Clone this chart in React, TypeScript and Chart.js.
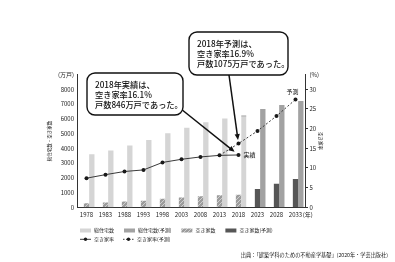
import React, { useEffect, useRef } from 'react';
import { Chart, registerables } from 'chart.js';

Chart.register(...registerables);

const FONT = '"Noto Sans CJK JP", "Noto Sans", sans-serif';

const years = ['1978', '1983', '1988', '1993', '1998', '2003', '2008', '2013', '2018', '2023', '2028', '2033'];
const totalHousing = [3600, 3850, 4190, 4560, 5020, 5390, 5770, 6020, 6240, null, null, null];
const totalHousingForecast = [null, null, null, null, null, null, null, null, null, 6670, 6940, 7210];
const vacantHouses = [268, 330, 394, 448, 576, 659, 757, 820, 846, null, null, null];
const vacantHousesForecast = [null, null, null, null, null, null, null, null, null, 1240, 1600, 1920];
const vacancyRate = [7.4, 8.3, 9.1, 9.5, 11.4, 12.2, 12.8, 13.2, 13.3, null, null, null];
const vacancyRateForecast = [null, null, null, null, null, null, null, 13.2, 16.2, 19.4, 23.2, 27.4];
const spacer = years.map(() => null);

const leftTickValues = [0, 1000, 2000, 3000, 4000, 5000, 6000, 7000, 8000];
const rightTickValues = [0, 5, 10, 15, 20, 25, 30];
const LEFT_MAX = 9000;
const RIGHT_MAX = 33.75;

const leftUnit = '(万戸)';
const rightUnit = '(%)';
const yearUnit = '(年)';
const leftTitle = '総住宅数・空き家数';
const rightTitle = '空き家率';
const actualCallout = ['2018年実績は、', '空き家率16.1%', '戸数846万戸であった。'];
const forecastCallout = ['2018年予測は、', '空き家率16.9%', '戸数1075万戸であった。'];
const actualTag = '実績';
const forecastTag = '予測';
const legendBars = ['総住宅数', '総住宅数(予測)', '空き家数', '空き家数(予測)'];
const legendLines = ['空き家率', '空き家率(予測)'];
const sourceNote = '出典：「建築学科のための不動産学基礎」(2020年・学芸出版社)';

const C_TOTAL = '#d5d5d5';
const C_TOTAL_F = '#a2a2a2';
const C_VACANT_F = '#565656';
const C_LINE = '#3a3a3a';
const C_DOT = '#1a1a1a';
const C_TEXT = '#222';

function makeHatch(): CanvasPattern | string {
  const c = document.createElement('canvas');
  c.width = 4;
  c.height = 4;
  const g = c.getContext('2d');
  if (!g) return '#a0a0a0';
  g.fillStyle = '#9c9c9c';
  g.fillRect(0, 0, 4, 4);
  g.strokeStyle = '#cfcfcf';
  g.lineWidth = 1;
  g.beginPath();
  g.moveTo(0, 4);
  g.lineTo(4, 0);
  g.stroke();
  const p = g.createPattern(c, 'repeat');
  return p || '#a0a0a0';
}

function roundRect(ctx: CanvasRenderingContext2D, x: number, y: number, w: number, h: number, r: number) {
  ctx.beginPath();
  ctx.moveTo(x + r, y);
  ctx.lineTo(x + w - r, y);
  ctx.arcTo(x + w, y, x + w, y + r, r);
  ctx.lineTo(x + w, y + h - r);
  ctx.arcTo(x + w, y + h, x + w - r, y + h, r);
  ctx.lineTo(x + r, y + h);
  ctx.arcTo(x, y + h, x, y + h - r, r);
  ctx.lineTo(x, y + r);
  ctx.arcTo(x, y, x + r, y, r);
  ctx.closePath();
}

function arrow(ctx: CanvasRenderingContext2D, x0: number, y0: number, tx: number, ty: number, back: number) {
  const dx = tx - x0;
  const dy = ty - y0;
  const len = Math.sqrt(dx * dx + dy * dy);
  const ux = dx / len;
  const uy = dy / len;
  const ex = tx - ux * back;
  const ey = ty - uy * back;
  const hl = 6;
  const hw = 2.6;
  ctx.strokeStyle = '#111';
  ctx.lineWidth = 1.5;
  ctx.beginPath();
  ctx.moveTo(x0, y0);
  ctx.lineTo(ex - ux * hl * 0.8, ey - uy * hl * 0.8);
  ctx.stroke();
  ctx.fillStyle = '#111';
  ctx.beginPath();
  ctx.moveTo(ex, ey);
  ctx.lineTo(ex - ux * hl - uy * hw, ey - uy * hl + ux * hw);
  ctx.lineTo(ex - ux * hl + uy * hw, ey - uy * hl - ux * hw);
  ctx.closePath();
  ctx.fill();
}

export default function App() {
  const ref = useRef<HTMLCanvasElement>(null);

  useEffect(() => {
    const canvas = ref.current;
    if (!canvas) return;
    const hatch = makeHatch();

    const overlay = {
      id: 'overlay',
      afterDraw(chart: any) {
        const ctx: CanvasRenderingContext2D = chart.ctx;
        const xs = chart.scales.x;
        ctx.save();

        // year unit after last x label
        ctx.font = `6px ${FONT}`;
        ctx.fillStyle = C_TEXT;
        ctx.textBaseline = 'middle';
        ctx.textAlign = 'left';
        const lastX = xs.getPixelForValue(years.length - 1);
        const lw = ctx.measureText(years[years.length - 1]).width;
        const labelY = xs.top + 4 + 3.6;
        ctx.fillText(yearUnit, lastX + lw / 2 + 0.5, labelY);

        // data points for 2018
        const actMeta = chart.getDatasetMeta(5);
        const fcMeta = chart.getDatasetMeta(6);
        const pA = actMeta.data[8];
        const pF = fcMeta.data[8];
        const pEnd = fcMeta.data[years.length - 1];

        // tags
        ctx.font = `6px ${FONT}`;
        ctx.fillStyle = '#111';
        ctx.textAlign = 'left';
        ctx.fillText(actualTag, pA.x + 5, pA.y);
        ctx.textAlign = 'center';
        ctx.fillText(forecastTag, pEnd.x - 3, pEnd.y - 8);

        // arrows
        arrow(ctx, 181, 109, pA.x, pA.y, 5);
        arrow(ctx, 229, 75, pF.x, pF.y, 3.5);

        // callout boxes
        const boxes = [
          { x: 87, y: 73, w: 96, h: 42, lines: actualCallout },
          { x: 189, y: 32, w: 99, h: 43, lines: forecastCallout },
        ];
        for (const b of boxes) {
          roundRect(ctx, b.x, b.y, b.w, b.h, 8);
          ctx.fillStyle = '#fff';
          ctx.fill();
          ctx.strokeStyle = '#111';
          ctx.lineWidth = 1.4;
          ctx.stroke();
          ctx.fillStyle = '#111';
          ctx.font = `500 8.2px ${FONT}`;
          ctx.textAlign = 'left';
          ctx.textBaseline = 'middle';
          b.lines.forEach((t, i) => ctx.fillText(t, b.x + 8, b.y + 11.5 + i * 10.3));
        }

        // legend
        const lx0 = 80;
        ctx.font = `5px ${FONT}`;
        ctx.textBaseline = 'middle';
        ctx.textAlign = 'left';
        const fills: any[] = [C_TOTAL, C_TOTAL_F, hatch, C_VACANT_F];
        let x = lx0;
        const r1 = 230.5;
        legendBars.forEach((t, i) => {
          ctx.fillStyle = fills[i];
          ctx.fillRect(x, r1 - 2, 11, 4);
          ctx.fillStyle = C_TEXT;
          ctx.fillText(t, x + 14, r1);
          x += 14 + ctx.measureText(t).width + 10;
        });
        x = lx0;
        const r2 = 239.3;
        legendLines.forEach((t, i) => {
          ctx.strokeStyle = C_LINE;
          ctx.lineWidth = 1;
          ctx.setLineDash(i === 1 ? [1.5, 1.5] : []);
          ctx.beginPath();
          ctx.moveTo(x, r2);
          ctx.lineTo(x + 11, r2);
          ctx.stroke();
          ctx.setLineDash([]);
          ctx.fillStyle = C_DOT;
          ctx.beginPath();
          ctx.arc(x + 5.5, r2, 1.7, 0, Math.PI * 2);
          ctx.fill();
          ctx.fillStyle = C_TEXT;
          ctx.fillText(t, x + 14, r2);
          x += 14 + ctx.measureText(t).width + 9;
        });

        // source
        ctx.font = `5.2px ${FONT}`;
        ctx.textAlign = 'right';
        ctx.fillStyle = C_TEXT;
        ctx.fillText(sourceNote, 388, 255.5);

        ctx.restore();
      },
    };

    const tickFont = { family: FONT, size: 6 };

    const chart = new Chart(canvas, {
      type: 'bar',
      data: {
        labels: years,
        datasets: [
          { label: 'spacer', data: spacer, stack: 's', backgroundColor: 'transparent' },
          { label: legendBars[2], data: vacantHouses, stack: 'v', backgroundColor: hatch as any, borderWidth: 0 },
          { label: legendBars[3], data: vacantHousesForecast, stack: 'v', backgroundColor: C_VACANT_F, borderWidth: 0 },
          {
            label: legendBars[0],
            data: totalHousing,
            stack: 't',
            backgroundColor: C_TOTAL,
            borderColor: '#a6a6a6',
            borderSkipped: false,
            borderWidth: (c: any) => (c.dataIndex === 8 ? { top: 1.5, left: 0, right: 0, bottom: 0 } : 0),
          },
          { label: legendBars[1], data: totalHousingForecast, stack: 't', backgroundColor: C_TOTAL_F, borderWidth: 0 },
          {
            type: 'line',
            label: legendLines[0],
            data: vacancyRate,
            yAxisID: 'y1',
            order: -1,
            borderColor: C_LINE,
            borderWidth: 1,
            pointRadius: 2,
            pointBackgroundColor: C_DOT,
            pointBorderWidth: 0,
            tension: 0,
          },
          {
            type: 'line',
            label: legendLines[1],
            data: vacancyRateForecast,
            yAxisID: 'y1',
            order: -1,
            borderColor: C_LINE,
            borderWidth: 1,
            borderDash: [2, 2],
            pointRadius: (c: any) => (c.dataIndex === 7 ? 0 : 2),
            pointBackgroundColor: C_DOT,
            pointBorderWidth: 0,
            tension: 0,
          },
        ] as any,
      },
      options: {
        responsive: false,
        maintainAspectRatio: false,
        animation: false,
        devicePixelRatio: 1,
        events: [],
        layout: { padding: { top: 74.5, left: 0, right: 0, bottom: 0 } },
        datasets: { bar: { categoryPercentage: 0.84, barPercentage: 1 } } as any,
        plugins: {
          legend: { display: false },
          tooltip: { enabled: false },
          title: { display: false },
        },
        scales: {
          x: {
            offset: true,
            grid: { display: false, drawTicks: false },
            border: { display: true, color: '#333', width: 1 },
            ticks: { font: tickFont, color: C_TEXT, padding: 4, maxRotation: 0, autoSkip: false },
            afterFit: (s: any) => {
              s.height = 54.7;
            },
          },
          y: {
            position: 'left',
            min: 0,
            max: LEFT_MAX,
            grid: { display: false, drawTicks: false },
            border: { display: true, color: '#333', width: 1 },
            afterBuildTicks: (s: any) => {
              s.ticks = [...leftTickValues, LEFT_MAX].map((v) => ({ value: v }));
            },
            ticks: {
              font: tickFont,
              color: C_TEXT,
              padding: 3,
              callback: (v: any) => (v === LEFT_MAX ? leftUnit : String(v)),
            },
            title: {
              display: true,
              text: leftTitle,
              font: { family: FONT, size: 4.5 },
              color: C_TEXT,
              padding: { top: 47, bottom: 0 },
            },
            afterFit: (s: any) => {
              s.width = 77;
            },
          },
          y1: {
            position: 'right',
            min: 0,
            max: RIGHT_MAX,
            grid: {
              display: true,
              drawOnChartArea: false,
              drawTicks: true,
              tickLength: 3,
              color: (c: any) => (c.tick && c.tick.value === RIGHT_MAX ? 'rgba(0,0,0,0)' : '#333'),
            },
            border: { display: true, color: '#333', width: 1 },
            afterBuildTicks: (s: any) => {
              s.ticks = [...rightTickValues, RIGHT_MAX].map((v) => ({ value: v }));
            },
            ticks: {
              font: tickFont,
              color: C_TEXT,
              padding: 1.5,
              callback: (v: any) => (v === RIGHT_MAX ? rightUnit : String(v)),
            },
            title: {
              display: true,
              text: rightTitle,
              font: { family: FONT, size: 4.5 },
              color: C_TEXT,
              padding: { top: 72, bottom: 0 },
            },
            afterFit: (s: any) => {
              s.width = 90;
            },
          },
        } as any,
      },
      plugins: [overlay],
    });

    return () => chart.destroy();
  }, []);

  return (
    <div style={{ position: 'fixed', left: 0, top: 0, width: 395, height: 262, background: '#fff' }}>
      <canvas ref={ref} width={395} height={262} style={{ display: 'block', width: 395, height: 262 }} />
    </div>
  );
}
